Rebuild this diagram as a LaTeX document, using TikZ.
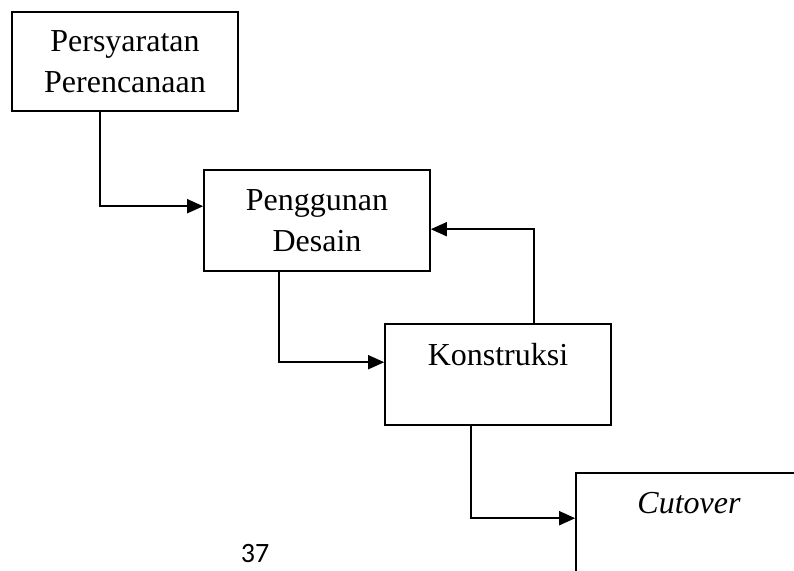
\documentclass[tikz,border=0pt]{standalone}
\usepackage{fontspec}
\setmainfont{Liberation Serif}
\newfontfamily\pagefont{Carlito}
\usetikzlibrary{calc, positioning, arrows.meta}

\tikzset{
    stagebox/.style={draw=black, line width=1.6pt, rectangle, align=center,
                     minimum width=226pt, inner sep=0pt,
                     font=\fontsize{32}{41}\selectfont},
    flowarrow/.style={line width=1.6pt, -{Triangle[length=16pt, width=14pt]}}
}

\begin{document}
\begin{tikzpicture}[x=1pt, y=-1pt]
            \useasboundingbox (0,0) rectangle (794,570);
            \clip (0,0) rectangle (794,570);
            % Stages of the cascade
            \node[stagebox, minimum height=99pt] (plan) at (125,61.5) {Persyaratan\\Perencanaan};
            \node[stagebox, minimum height=101pt] (desain) at (317,220.5) {Penggunan\\Desain};
            \node[stagebox, minimum height=101pt] (konstruksi) at (498,374.5) {Konstruksi\\~};
            \node[stagebox, minimum height=101pt] (cutover) at (689,523.5) {\textit{Cutover}\\~};
            % Flow between stages
            \draw[flowarrow] ($(plan.south west)+(89,0)$) |- ($(desain.north west)+(0,37)$);
            \draw[flowarrow] ($(desain.south west)+(76,0)$) |- ($(konstruksi.north west)+(0,39)$);
            \draw[flowarrow] ($(konstruksi.south west)+(87,0)$) |- ($(cutover.north west)+(0,46)$);
            % Feedback
            \draw[flowarrow] ($(konstruksi.north west)+(150,0)$) |- ($(desain.north east)+(0,60)$);
            % Page number
            \node[font=\pagefont\fontsize{28}{28}\selectfont, anchor=base, inner sep=0pt] (halaman) at (255,562) {37};
        \end{tikzpicture}
\end{document}
